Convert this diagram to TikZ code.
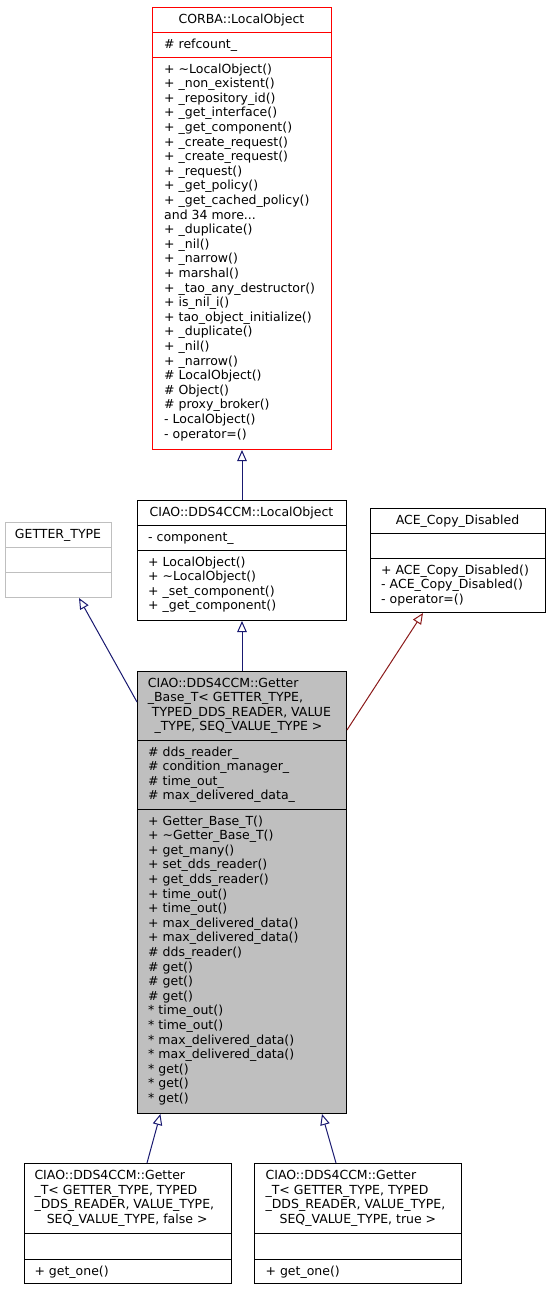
\documentclass[tikz,border=0pt]{standalone}
\usepackage{fontspec}
\setmainfont{DejaVu Sans}
\usetikzlibrary{arrows.meta,calc}
\definecolor{navyarrow}{HTML}{191970}
\definecolor{redarrow}{HTML}{8B1A1A}
\definecolor{boxgray}{HTML}{BFBFBF}
\newcommand{\mytdots}{...}
\begin{document}
\begin{tikzpicture}[x=1pt,y=-1pt,
  cls/.style={draw=black, line width=1pt, inner sep=0pt, anchor=north west},
  sepline/.style={line width=1pt},
  txt/.style={inner sep=0pt, font=\fontsize{12.5}{14.6}\selectfont},
  inh/.style={draw=navyarrow, line width=1pt, -{Triangle[open, length=11pt, width=9.5pt]}},
  inhprot/.style={draw=redarrow, line width=1pt, -{Triangle[open, length=11pt, width=9.5pt]}}]
\useasboundingbox (0,0) rectangle (549,1291);

% ---------------- CORBA::LocalObject ----------------
\node[cls, draw=red, minimum width=179pt, minimum height=442pt] (corba) at (152,7) {};
\draw[sepline, red] (corba.west |- 0,32) -- (corba.east |- 0,32);
\draw[sepline, red] (corba.west |- 0,57) -- (corba.east |- 0,57);
\node[txt, anchor=base] (corba-t) at (241.5,23) {CORBA::LocalObject};
\node[txt, anchor=base west] (corba-a1) at (164,48) {\# refcount\_};
\foreach \t [count=\i] in {
  {+ \textasciitilde LocalObject()},
  {+ \_non\_existent()},
  {+ \_repository\_id()},
  {+ \_get\_interface()},
  {+ \_get\_component()},
  {+ \_create\_request()},
  {+ \_create\_request()},
  {+ \_request()},
  {+ \_get\_policy()},
  {+ \_get\_cached\_policy()},
  {and 34 more\mytdots},
  {+ \_duplicate()},
  {+ \_nil()},
  {+ \_narrow()},
  {+ marshal()},
  {+ \_tao\_any\_destructor()},
  {+ is\_nil\_i()},
  {+ tao\_object\_initialize()},
  {+ \_duplicate()},
  {+ \_nil()},
  {+ \_narrow()},
  {\# LocalObject()},
  {\# Object()},
  {\# proxy\_broker()},
  {- LocalObject()},
  {- operator=()}}
  \node[txt, anchor=base west] (corba-m\i) at (164,{73+14.6*(\i-1)}) {\t};

% ---------------- GETTER_TYPE ----------------
\node[cls, draw=boxgray, minimum width=106pt, minimum height=75pt] (gt) at (5,522) {};
\draw[sepline, boxgray] (gt.west |- 0,547) -- (gt.east |- 0,547);
\draw[sepline, boxgray] (gt.west |- 0,572) -- (gt.east |- 0,572);
\node[txt, anchor=base] (gt-t) at (58,538) {GETTER\_TYPE};

% ---------------- CIAO::DDS4CCM::LocalObject ----------------
\node[cls, minimum width=209pt, minimum height=120pt] (lo) at (137,500) {};
\draw[sepline] (lo.west |- 0,525) -- (lo.east |- 0,525);
\draw[sepline] (lo.west |- 0,550) -- (lo.east |- 0,550);
\node[txt, anchor=base] (lo-t) at (241.5,516) {CIAO::DDS4CCM::LocalObject};
\node[txt, anchor=base west] (lo-a1) at (148,541) {- component\_};
\foreach \t [count=\i] in {
  {+ LocalObject()},
  {+ \textasciitilde LocalObject()},
  {+ \_set\_component()},
  {+ \_get\_component()}}
  \node[txt, anchor=base west] (lo-m\i) at (148,{566+14.6*(\i-1)}) {\t};

% ---------------- ACE_Copy_Disabled ----------------
\node[cls, minimum width=175pt, minimum height=104pt] (ace) at (370,508) {};
\draw[sepline] (ace.west |- 0,533) -- (ace.east |- 0,533);
\draw[sepline] (ace.west |- 0,558) -- (ace.east |- 0,558);
\node[txt, anchor=base] (ace-t) at (457.5,524) {ACE\_Copy\_Disabled};
\foreach \t [count=\i] in {
  {+ ACE\_Copy\_Disabled()},
  {- ACE\_Copy\_Disabled()},
  {- operator=()}}
  \node[txt, anchor=base west] (ace-m\i) at (381,{574+14.6*(\i-1)}) {\t};

% ---------------- Getter_Base_T (main) ----------------
\node[cls, fill=boxgray, minimum width=209pt, minimum height=442pt] (main) at (137,671) {};
\draw[sepline] (main.west |- 0,740) -- (main.east |- 0,740);
\draw[sepline] (main.west |- 0,809) -- (main.east |- 0,809);
\node[txt, anchor=base west] (main-t1) at (147.7,687) {CIAO::DDS4CCM::Getter};
\node[txt, anchor=base west] (main-t2) at (147.7,701.6) {\_Base\_T< GETTER\_TYPE,};
\node[txt, anchor=base west] (main-t3) at (151.7,716.2) {TYPED\_DDS\_READER, VALUE};
\node[txt, anchor=base west] (main-t4) at (154.3,730.8) {\_TYPE, SEQ\_VALUE\_TYPE >};
\foreach \t [count=\i] in {
  {\# dds\_reader\_},
  {\# condition\_manager\_},
  {\# time\_out\_},
  {\# max\_delivered\_data\_}}
  \node[txt, anchor=base west] (main-a\i) at (148,{756+14.6*(\i-1)}) {\t};
\foreach \t [count=\i] in {
  {+ Getter\_Base\_T()},
  {+ \textasciitilde Getter\_Base\_T()},
  {+ get\_many()},
  {+ set\_dds\_reader()},
  {+ get\_dds\_reader()},
  {+ time\_out()},
  {+ time\_out()},
  {+ max\_delivered\_data()},
  {+ max\_delivered\_data()},
  {\# dds\_reader()},
  {\# get()},
  {\# get()},
  {\# get()},
  {* time\_out()},
  {* time\_out()},
  {* max\_delivered\_data()},
  {* max\_delivered\_data()},
  {* get()},
  {* get()},
  {* get()}}
  \node[txt, anchor=base west] (main-m\i) at (148,{825+14.6*(\i-1)}) {\t};

% ---------------- Getter_T false ----------------
\node[cls, minimum width=207pt, minimum height=120pt] (bl) at (24,1163) {};
\draw[sepline] (bl.west |- 0,1233) -- (bl.east |- 0,1233);
\draw[sepline] (bl.west |- 0,1259) -- (bl.east |- 0,1259);
\node[txt, anchor=base west] (bl-t1) at (34.3,1179.5) {CIAO::DDS4CCM::Getter};
\node[txt, anchor=base west] (bl-t2) at (34.3,1194.1) {\_T< GETTER\_TYPE, TYPED};
\node[txt, anchor=base west] (bl-t3) at (34.3,1208.7) {\_DDS\_READER, VALUE\_TYPE,};
\node[txt, anchor=base west] (bl-t4) at (46.6,1223.3) {SEQ\_VALUE\_TYPE, false >};
\node[txt, anchor=base west] (bl-m1) at (34.3,1275) {+ get\_one()};

% ---------------- Getter_T true ----------------
\node[cls, minimum width=207pt, minimum height=120pt] (br) at (254,1163) {};
\draw[sepline] (br.west |- 0,1233) -- (br.east |- 0,1233);
\draw[sepline] (br.west |- 0,1259) -- (br.east |- 0,1259);
\node[txt, anchor=base west] (br-t1) at (265.4,1179.5) {CIAO::DDS4CCM::Getter};
\node[txt, anchor=base west] (br-t2) at (265.4,1194.1) {\_T< GETTER\_TYPE, TYPED};
\node[txt, anchor=base west] (br-t3) at (265.4,1208.7) {\_DDS\_READER, VALUE\_TYPE,};
\node[txt, anchor=base west] (br-t4) at (279.4,1223.3) {SEQ\_VALUE\_TYPE, true >};
\node[txt, anchor=base west] (br-m1) at (265.4,1275) {+ get\_one()};

% ---------------- inheritance connectors ----------------
\draw[inh] (lo.north) -- (corba.south);
\draw[inh] ($(main.north west)+(0,31)$) -- ($(gt.south west)+(74,0)$);
\draw[inh] (main.north) -- (lo.south);
\draw[inhprot] ($(main.north east)+(0,59)$) -- ($(ace.south west)+(53,0)$);
\draw[inh] ($(bl.north west)+(123,0)$) -- ($(main.south west)+(23.4,0)$);
\draw[inh] ($(br.north west)+(82,0)$) -- ($(main.south west)+(185,0)$);
\end{tikzpicture}
\end{document}
